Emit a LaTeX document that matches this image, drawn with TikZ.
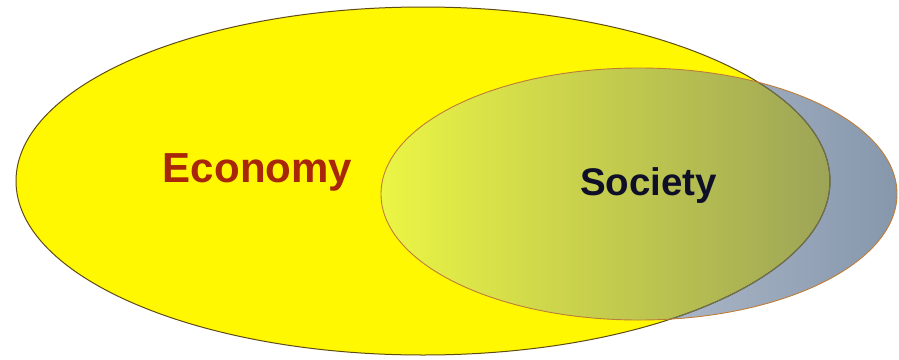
\documentclass[tikz,border=0pt]{standalone}
\usepackage{fontspec}
\setmainfont{Liberation Sans}
\definecolor{bigfill}{RGB}{255,248,0}
\definecolor{bigline}{RGB}{95,75,20}
\definecolor{biginner}{RGB}{110,112,85}
\definecolor{smallline}{RGB}{190,125,55}
\definecolor{outL}{RGB}{216,221,233}
\definecolor{outR}{RGB}{134,151,172}
\definecolor{inL}{RGB}{235,245,68}
\definecolor{inM}{RGB}{224,234,72}
\definecolor{inR}{RGB}{145,152,90}
\definecolor{econ}{RGB}{168,38,10}
\definecolor{soc}{RGB}{15,15,40}
\begin{document}
\begin{tikzpicture}[x=1pt,y=-1pt,
  label/.style={anchor=base, inner sep=0pt}]
\useasboundingbox (0,0) rectangle (899,359);
\def\bigell{(423,181) ellipse [x radius=407, y radius=174]}
\def\smallell{(639,194) ellipse [x radius=258, y radius=126]}
% Economy ellipse fill
\fill[bigfill] \bigell;
% Society ellipse: part outside economy
\shade[left color=outL, right color=outR] \smallell;
% Society ellipse: part inside economy
\begin{scope}
  \clip \bigell;
  \shade[left color=inL, middle color=inM, right color=inR] \smallell;
\end{scope}
% outlines
\draw[bigline, line width=1pt] \bigell;
\begin{scope}
  \clip \smallell;
  \draw[biginner, line width=1pt] \bigell;
\end{scope}
\draw[smallline, line width=0.9pt] \smallell;
% labels
\node[label, text=econ, font=\bfseries\fontsize{42}{42}\selectfont] (economy) at (257.5,182) {Economy};
\node[label, text=soc, font=\bfseries\fontsize{38.5}{38.5}\selectfont] (society) at (648.5,195) {Society};
\end{tikzpicture}
\end{document}
